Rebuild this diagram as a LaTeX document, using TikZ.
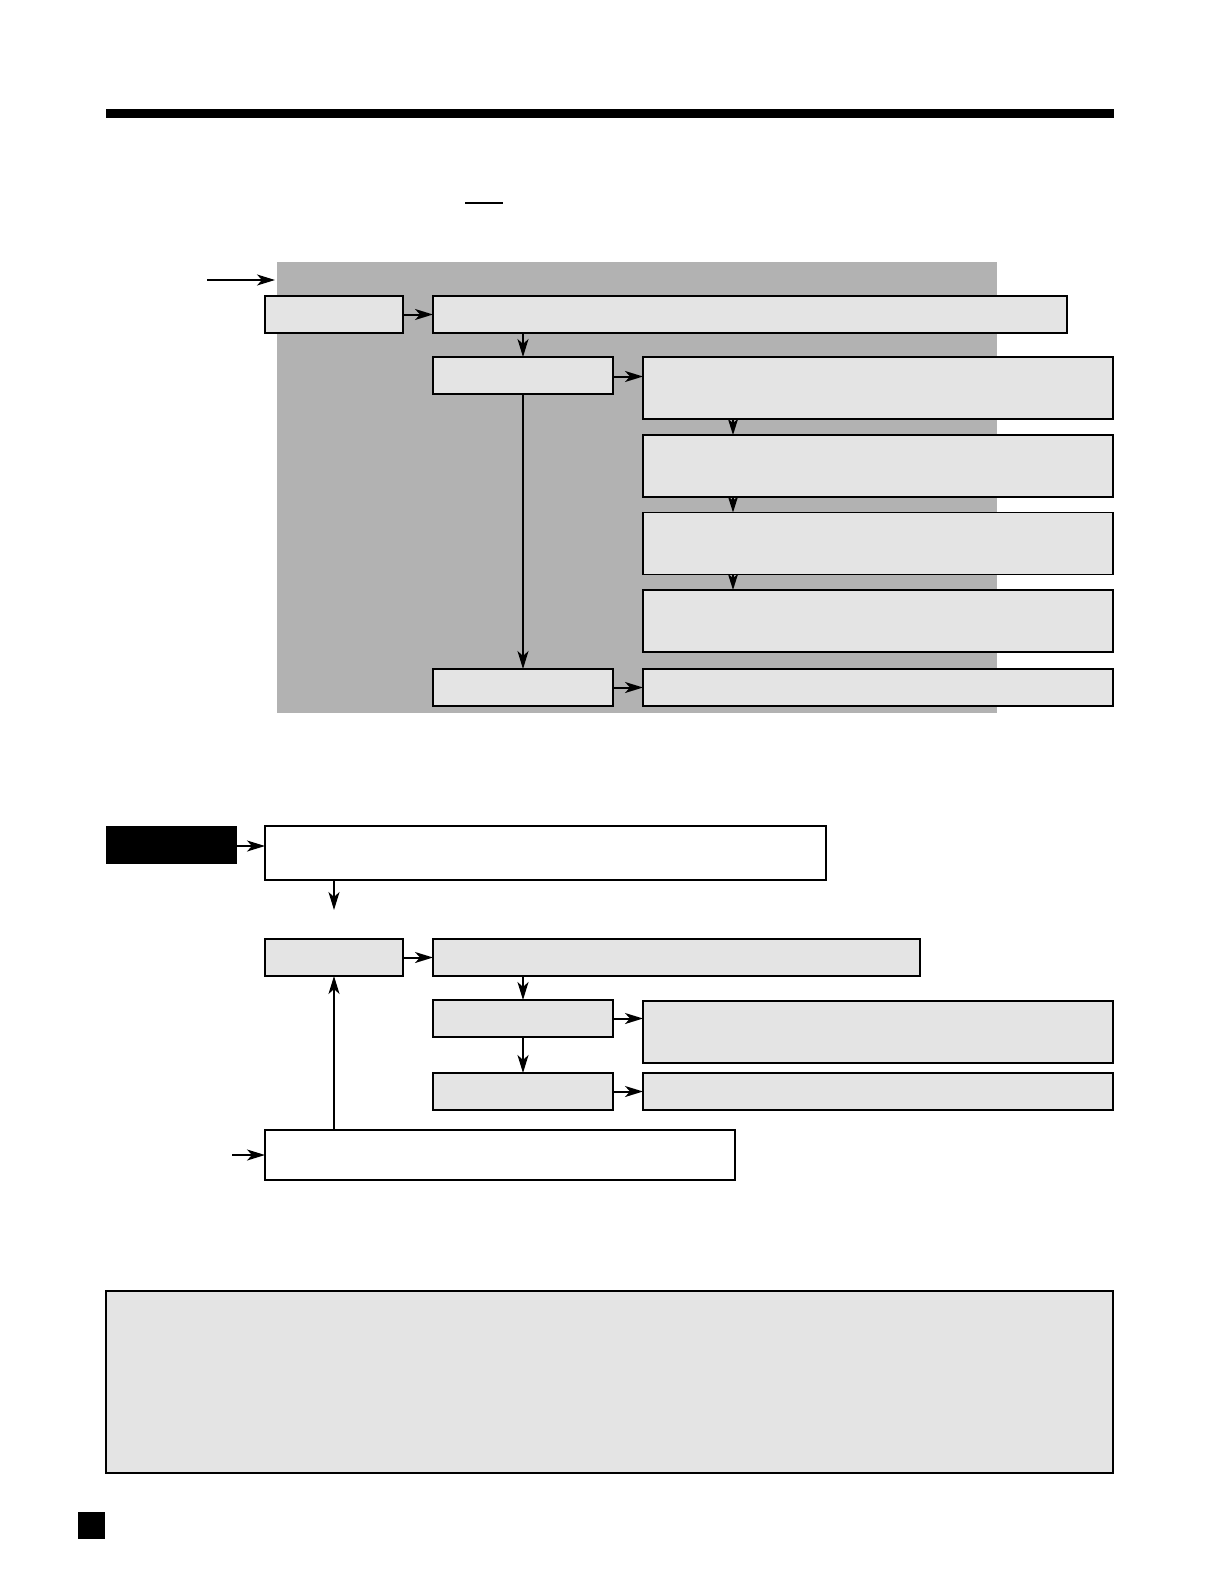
\documentclass[tikz,border=0pt]{standalone}
\usepackage{xcolor,tikz}
\usetikzlibrary{arrows.meta,calc}
\definecolor{bggray}{HTML}{B2B2B2}
\definecolor{boxgray}{HTML}{E4E4E4}

\begin{document}
\begin{tikzpicture}[x=0.5pt,y=-0.5pt,>={Stealth[length=9pt,width=5.5pt,inset=2.5pt]},
  panel/.style={draw,line width=.7pt,fill=boxgray,inner sep=0pt,outer sep=0pt},
  plain/.style={draw,line width=.7pt,fill=white,inner sep=0pt,outer sep=0pt},
  flow/.style={->,line width=1pt},
  shortflow/.style={-{Stealth[length=8pt,width=5pt,inset=2pt]},line width=1pt}]
 \useasboundingbox (0,0) rectangle (1224,1584);
 % page decorations
 \fill (106,109) rectangle (1114,118);
 \draw[line width=.8pt] (465,203)--(503,203);
 \fill (78,1512) rectangle (105,1539);
 % upper chart
 \fill[bggray] (277,262) rectangle (997,713);
 \coordinate (in1) at (207,280);
 \coordinate (bg) at (275,280);
 \node[panel,minimum width=69pt,minimum height=18.5pt] (a) at (334,314.5) {};
 \node[panel,minimum width=317pt,minimum height=18.5pt] (b) at (750,314.5) {};
 \node[panel,minimum width=90pt,minimum height=18.5pt] (c) at (523,375.5) {};
 \node[panel,minimum width=235pt,minimum height=31pt] (d) at (878,388) {};
 \node[panel,minimum width=235pt,minimum height=31pt] (e) at (878,466) {};
 \node[panel,minimum width=235pt,minimum height=31pt] (f) at (878,543.5) {};
 \node[panel,minimum width=235pt,minimum height=31pt] (g) at (878,621) {};
 \node[panel,minimum width=235pt,minimum height=18.5pt] (h) at (878,687.5) {};
 \node[panel,minimum width=90pt,minimum height=18.5pt] (i) at (523,687.5) {};
 \draw[flow] (in1)--(bg);
 \draw[flow] (a.east)--(b.west);
 \draw[flow] (b.south -| c.north)--(c.north);
 \draw[flow] ([yshift=-.5pt]c.east)--([yshift=-.5pt]c.east -| d.west);
 \draw[shortflow] ([xshift=45pt]d.south west)--([xshift=45pt]e.north west);
 \draw[shortflow] ([xshift=45pt]e.south west)--([xshift=45pt]f.north west);
 \draw[shortflow] ([xshift=45pt]f.south west)--([xshift=45pt]g.north west);
 \draw[flow] (c.south)--(i.north);
 \draw[flow] (i.east)--(h.west);
 % lower chart
 \node[fill=black,inner sep=0pt,minimum width=65.5pt,minimum height=19pt] (tag) at (171.5,845) {};
 \node[plain,minimum width=280.5pt,minimum height=27pt] (j) at (545.5,853) {};
 \node[panel,minimum width=69pt,minimum height=18.5pt] (k) at (334,957.5) {};
 \node[panel,minimum width=243.5pt,minimum height=18.5pt] (l) at (676.5,957.5) {};
 \node[panel,minimum width=90pt,minimum height=18.5pt] (m) at (523,1018.5) {};
 \node[panel,minimum width=90pt,minimum height=18.5pt] (n) at (523,1091.5) {};
 \node[panel,minimum width=235pt,minimum height=31pt] (o) at (878,1032) {};
 \node[panel,minimum width=235pt,minimum height=18.5pt] (p) at (878,1091.5) {};
 \node[plain,minimum width=235pt,minimum height=25pt] (q) at (500,1155) {};
 \coordinate (jdown) at (334,910);
 \coordinate (in2) at (232,1155);
 \draw[flow] ([yshift=-.5pt]tag.east)--([yshift=-.5pt]tag.east -| j.west);
 \draw[flow] (j.south -| jdown)--(jdown);
 \draw[flow] (k.east)--(l.west);
 \draw[flow] (l.south -| m.north)--(m.north);
 \draw[flow] (m.south)--(n.north);
 \draw[flow] (m.east)--(m.east -| o.west);
 \draw[flow] (n.east)--(p.west);
 \draw[flow] (in2)--(q.west);
 \draw[flow] (q.north -| k.south)--(k.south);
 % note box
 \node[panel,minimum width=503.5pt,minimum height=91pt] (note) at (609.5,1382) {};
\end{tikzpicture}
\end{document}
